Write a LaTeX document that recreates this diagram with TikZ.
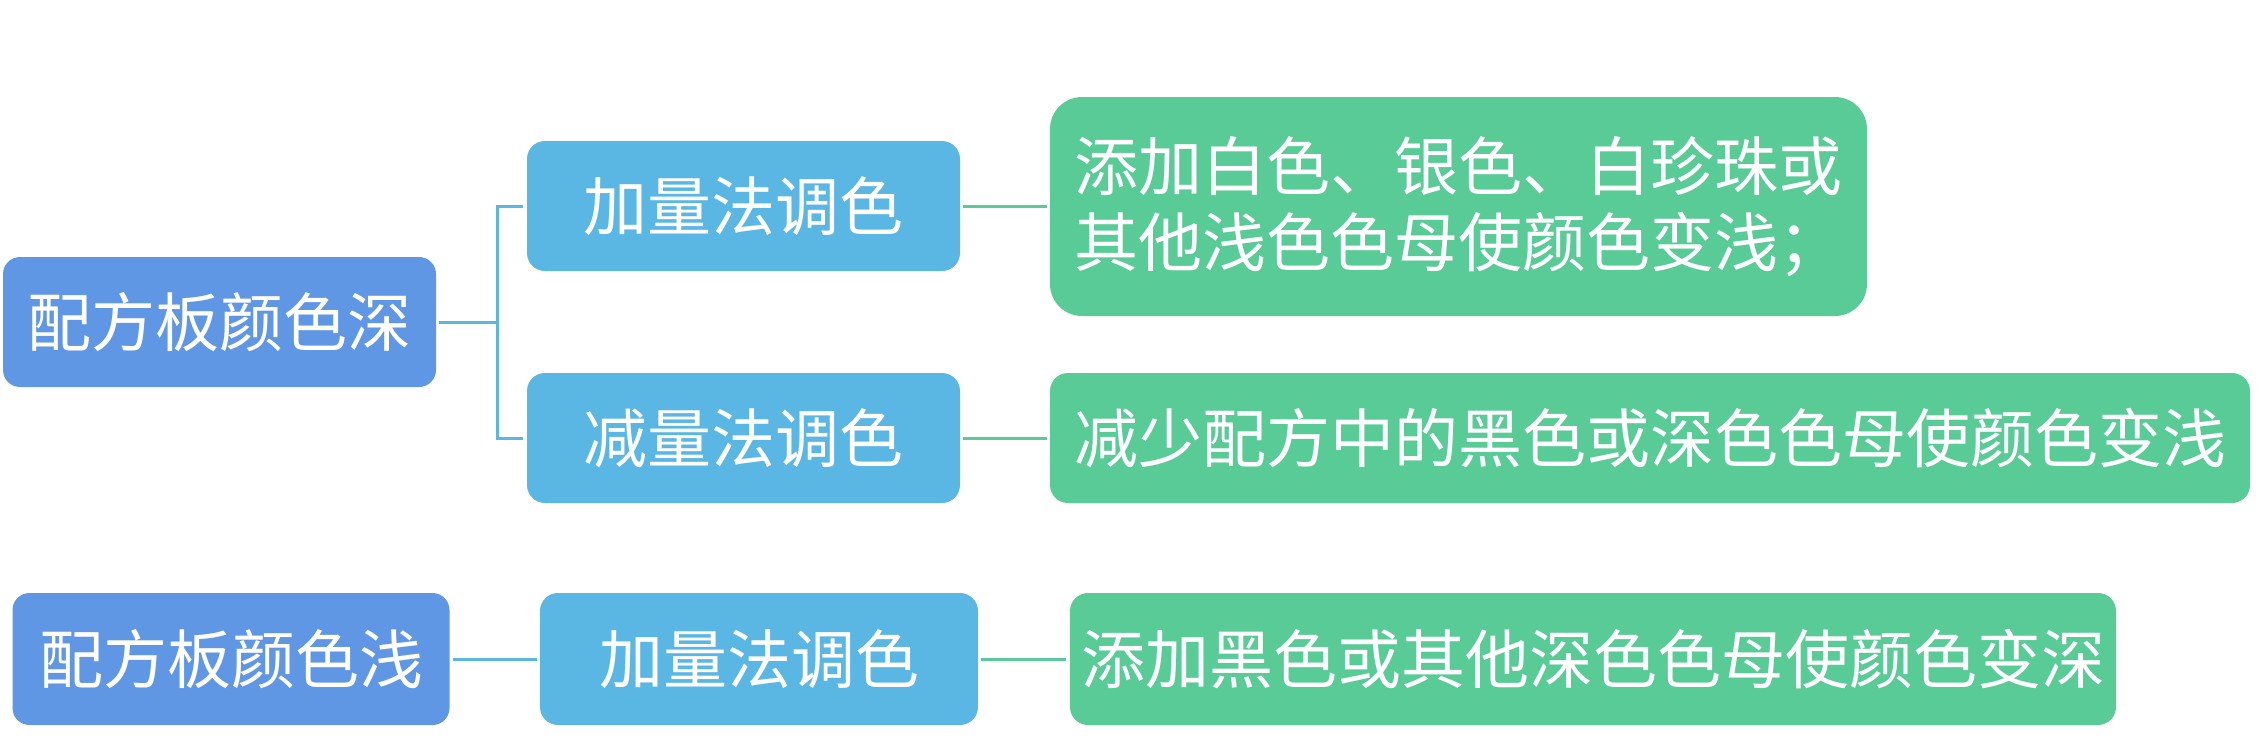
\documentclass[tikz,border=0pt]{standalone}
\usepackage{fontspec}
\setmainfont{Noto Sans CJK SC}
\definecolor{cA}{HTML}{6097E5}
\definecolor{cB}{HTML}{5AB6E3}
\definecolor{cC}{HTML}{58CB97}
\tikzset{
  box/.style={rectangle, text=white, font=\fontsize{64pt}{76pt}\selectfont, inner sep=0pt, align=center},
  boxA/.style={box, fill=cA, rounded corners=17pt, minimum height=130pt},
  boxB/.style={box, fill=cB, rounded corners=18pt, minimum height=130pt, minimum width=433pt},
  boxC/.style={box, fill=cC, rounded corners=18pt, minimum height=130pt},
  lineB/.style={draw=cB, line width=3pt},
  lineC/.style={draw=cC, line width=3pt},
}
\begin{document}
\begin{tikzpicture}[x=1pt,y=-1pt]
\useasboundingbox (0,0) rectangle (2265,740);
% first group
\node[boxA, minimum width=433pt] (a1) at (219.5,322) {配方板颜色深};
\node[boxB] (b1) at (743.5,206) {加量法调色};
\node[boxB] (b2) at (743.5,438) {减量法调色};
\node[boxC, rounded corners=32pt, minimum width=817pt, minimum height=219pt, align=left] (c1) at (1458.5,206.5) {添加白色、银色、白珍珠或\\其他浅色色母使颜色变浅；};
\node[boxC, minimum width=1200pt] (c2) at (1650,438) {减少配方中的黑色或深色色母使颜色变浅};
% second group
\node[boxA, minimum width=437pt, minimum height=132pt] (a2) at (231,659) {配方板颜色浅};
\node[boxB, minimum width=438pt, minimum height=132pt] (b3) at (759,659) {加量法调色};
\node[boxC, minimum width=1046pt, minimum height=132pt] (c3) at (1593,659) {添加黑色或其他深色色母使颜色变深};
% connectors
\draw[lineB, shorten <=3pt, shorten >=4pt] (a1.east) -- ++(61,0) |- (b1.west);
\draw[lineB, shorten <=3pt, shorten >=4pt] (a1.east) -- ++(61,0) |- (b2.west);
\draw[lineC, shorten <=3pt, shorten >=3pt] (b1.east) -- (b1.east -| c1.west);
\draw[lineC, shorten <=3pt, shorten >=3pt] (b2.east) -- (c2.west);
\draw[lineB, shorten <=3pt, shorten >=3pt] (a2.east) -- (b3.west);
\draw[lineC, shorten <=3pt, shorten >=4pt] (b3.east) -- (c3.west);
\end{tikzpicture}
\end{document}
